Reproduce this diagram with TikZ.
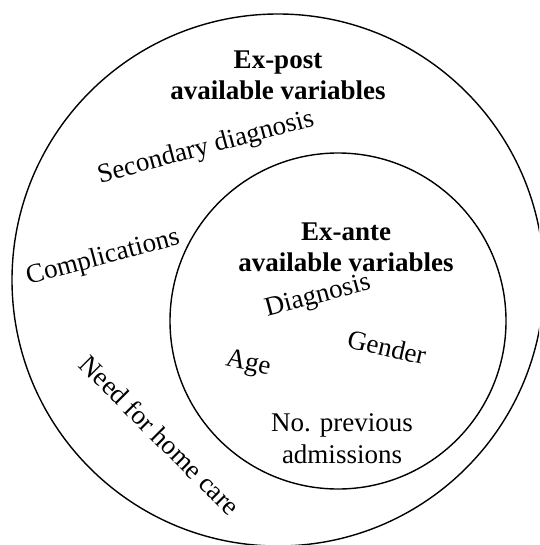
\documentclass[tikz,border=0pt]{standalone}
\usepackage{fontspec}
\setmainfont{Liberation Serif}
\usetikzlibrary{positioning}

\begin{document}
\begin{tikzpicture}[x=1pt, y=-1pt,
  ring/.style={draw, circle, line width=1.4pt, inner sep=0pt,
               minimum size=#1},
  head/.style={align=center, font=\fontsize{27}{31}\selectfont\bfseries},
  var/.style={align=center, font=\fontsize{27}{32}\selectfont}
]
\useasboundingbox (0,0) rectangle (539,545);
\clip (0,0) rectangle (539,545);

% Circles
\node[ring=532pt] (outer) at (278,280) {};
\node[ring=336pt] (inner) at (338,321) {};

% Ex-post
\node[head] (expost) at (278,75) {Ex-post\\available variables};
\node[var, rotate=15] (secdiag) at (206,148) {Secondary diagnosis};
\node[var, rotate=15] (compl) at (103,258) {Complications};
\node[var, rotate=-45] (homecare) at (160,435) {Need for home care};

% Ex-ante
\node[head] (exante) at (346,247) {Ex-ante\\available variables};
\node[var, rotate=15] (diag) at (318,297) {Diagnosis};
\node[var, rotate=-13] (gender) at (387,347) {Gender};
\node[var, rotate=-12] (age) at (248,364) {Age};
\node[var] (prevadm) at (342,439) {No. previous\\admissions};
\end{tikzpicture}
\end{document}
